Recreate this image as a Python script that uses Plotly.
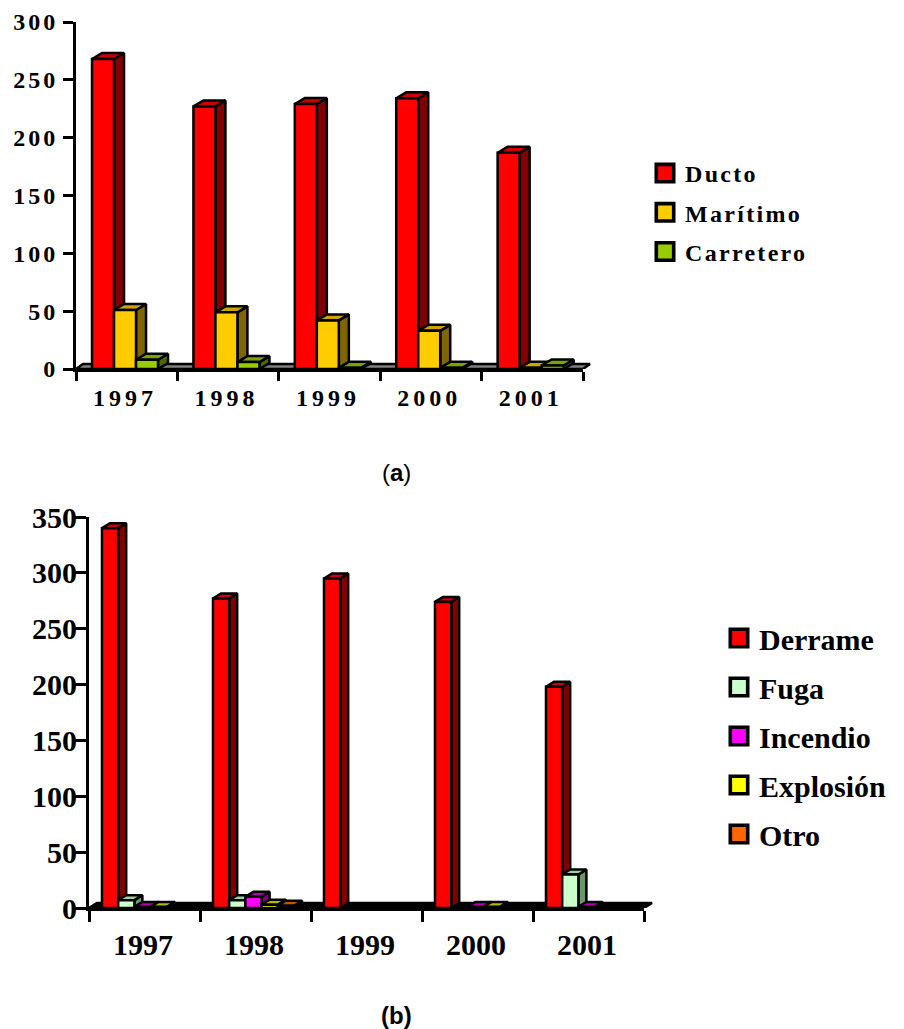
import plotly.graph_objects as go

years = ["1997", "1998", "1999", "2000", "2001"]

ducto = [268, 227, 229, 234, 187]
maritimo = [51, 49, 42, 33, 1]
carretero = [8, 6, 1, 1, 3]

derrame = [340, 277, 295, 274, 198]
fuga = [7, 7, 0, 0, 30]
incendio = [1, 10, 0, 1, 1]
explosion = [1, 3, 0, 1, 0]
otro = [0, 2, 0, 0, 0]

W, H = 904, 1029
SERIF = "Liberation Serif"
SANS = "Liberation Sans"


def chart(series, xa, ya, xa2, ya2, legend, y_max, px_left, px_right, px_bottom, px_top,
          start, bar_w, depth, floor_depth, floor_color, line_w):
    """series: (name, values, front, top, side)"""
    scale_x = (px_right - px_left) / len(years)
    scale_y = (px_bottom - px_top) / y_max
    dx = depth[0] / scale_x
    dy = depth[1] / scale_y
    fdx = floor_depth[0] / scale_x
    fdy = floor_depth[1] / scale_y
    n = len(years)
    traces = [go.Scatter(x=[0, fdx, n + fdx, n, 0], y=[0, fdy, fdy, 0, 0], mode="lines", fill="toself",
                         fillcolor=floor_color, line=dict(color="black", width=line_w),
                         xaxis=xa, yaxis=ya, showlegend=False, hoverinfo="skip")]
    fronts = []
    for k, (name, vals, front, top, side) in enumerate(series):
        tx, ty, sx, sy = [], [], [], []
        centers = []
        for i, v in enumerate(vals):
            x0 = i + start + k * bar_w
            x1 = x0 + bar_w
            centers.append((x0 + x1) / 2)
            if v == 0:
                continue  # a zero-height column leaves only the floor visible
            tx += [x0, x0 + dx, x1 + dx, x1, x0, None]
            ty += [v, v + dy, v + dy, v, v, None]
            sx += [x1, x1 + dx, x1 + dx, x1, x1, None]
            sy += [v, v + dy, dy, 0, v, None]
        for px, py, c in ((sx, sy, side), (tx, ty, top)):
            traces.append(go.Scatter(x=px, y=py, mode="lines", fill="toself", fillcolor=c,
                                     line=dict(color="black", width=line_w), xaxis=xa, yaxis=ya,
                                     showlegend=False, hoverinfo="skip"))
        fronts.append(go.Bar(x=centers, y=vals, width=bar_w, name=name,
                             marker=dict(color=front, line=dict(color="black", width=line_w)),
                             xaxis=xa2, yaxis=ya2, legend=legend, legendgroup=name))
    return traces + fronts


series_a = [
    ("Ducto", ducto, "#FF0000", "#CC0000", "#800000"),
    ("Marítimo", maritimo, "#FFCC00", "#CCA300", "#806600"),
    ("Carretero", carretero, "#99CC00", "#7AA300", "#4D6600"),
]
series_b = [
    ("Derrame", derrame, "#FF0000", "#CC0000", "#800000"),
    ("Fuga", fuga, "#CCFFCC", "#A3CCA3", "#669966"),
    ("Incendio", incendio, "#FF00FF", "#B000B0", "#800080"),
    ("Explosión", explosion, "#FFFF00", "#B8B800", "#808000"),
    ("Otro", otro, "#FF6600", "#CC5200", "#803300"),
]

A = dict(px_left=76, px_right=583, px_bottom=369, px_top=22)
B = dict(px_left=89, px_right=644, px_bottom=908, px_top=517)
EXTRA = 12  # pixels of room right of the axis end, for the floor's depth

fig = go.Figure()
fig.add_traces(chart(series_a, "x", "y", "x2", "y2", "legend", 300, **A, start=0.158, bar_w=0.217,
                     depth=(10, 6), floor_depth=(7, 5), floor_color="#808080", line_w=2.5))
fig.add_traces(chart(series_b, "x3", "y3", "x4", "y4", "legend2", 350, **B, start=0.117, bar_w=0.146,
                     depth=(8, 5), floor_depth=(8, 5), floor_color="#000000", line_w=2.5))


def dom_x(d, extra=0):
    return [d["px_left"] / W, (d["px_right"] + extra) / W]


def dom_y(d):
    return [1 - d["px_bottom"] / H, 1 - d["px_top"] / H]


def back_x(d, anchor):
    n = len(years)
    scale = (d["px_right"] - d["px_left"]) / n
    return dict(domain=dom_x(d, EXTRA), anchor=anchor, range=[0, n + EXTRA / scale], visible=False)


def back_y(d, anchor, y_max):
    return dict(domain=dom_y(d), anchor=anchor, range=[0, y_max], visible=False)


def front_x(d, anchor, size, standoff, ticklen, center):
    return dict(domain=dom_x(d), anchor=anchor, range=[0, len(years)], showgrid=False, zeroline=False, showline=True,
                linecolor="black", linewidth=3, tickmode="array",
                tickvals=[i + center for i in range(len(years))], ticktext=years, ticks="", ticklabelstandoff=standoff,
                tickfont=dict(family=SERIF, size=size, color="black", weight="bold"),
                minor=dict(tickmode="array", tickvals=list(range(len(years) + 1)), ticks="outside",
                           ticklen=ticklen, tickwidth=3, tickcolor="black", showgrid=False))


def front_y(d, anchor, y_max, step, size, ticklen, standoff):
    return dict(domain=dom_y(d), anchor=anchor, range=[0, y_max], showgrid=False, zeroline=False, showline=True,
                linecolor="black", linewidth=3, tickmode="array", tickvals=list(range(0, y_max + 1, step)),
                ticks="outside", ticklen=ticklen, tickwidth=3, tickcolor="black", ticklabelstandoff=standoff,
                tickfont=dict(family=SERIF, size=size, color="black", weight="bold"))


fig.update_layout(
    width=W, height=H, margin=dict(l=0, r=0, t=0, b=0, autoexpand=False), paper_bgcolor="white", plot_bgcolor="rgba(0,0,0,0)",
    barmode="overlay", showlegend=True, hovermode=False,
    xaxis=back_x(A, "y"),
    yaxis=back_y(A, "x", 300),
    xaxis2=front_x(A, "y2", 24, 5, 9, 0.484),
    yaxis2=front_y(A, "x2", 300, 50, 24, 10, 0),
    xaxis3=back_x(B, "y3"),
    yaxis3=back_y(B, "x3", 350),
    xaxis4=front_x(B, "y4", 30, 8, 11, 0.486),
    yaxis4=front_y(B, "x4", 350, 50, 30, 11, -8),
    legend=dict(x=645 / W, y=1 - 151 / H, xanchor="left", yanchor="top", bgcolor="rgba(0,0,0,0)",
                font=dict(family=SERIF, size=24, color="black", weight="bold"), tracegroupgap=5,
                itemwidth=30, entrywidth=135, entrywidthmode="pixels"),
    legend2=dict(x=719 / W, y=1 - 612 / H, xanchor="left", yanchor="top", bgcolor="rgba(0,0,0,0)",
                 font=dict(family=SERIF, size=30, color="black", weight="bold"), tracegroupgap=7,
                 itemwidth=30, entrywidth=145, entrywidthmode="pixels"),
    annotations=[
        dict(text="(<b>a</b>)", x=396 / W, y=1 - 473 / H, xref="paper", yref="paper", showarrow=False,
             xanchor="center", yanchor="middle", font=dict(family=SANS, size=24, color="black")),
        dict(text="<b>(b)</b>", x=396 / W, y=1 - 1015 / H, xref="paper", yref="paper", showarrow=False,
             xanchor="center", yanchor="middle", font=dict(family=SANS, size=24, color="black")),
    ],
)

css = """
.x2tick text {letter-spacing: 4px;}
.y2tick text {letter-spacing: 3px;}
.legend .traces text {letter-spacing: 2.3px;}
.legend .scrollbox, .legend2 .scrollbox {clip-path: none !important;}
g.legendpoints path {transform: translate(20px, 0px) scale(1.45) !important;}
"""
post = ("document.body.style.margin='0';document.documentElement.style.overflow='hidden';"
        "var s=document.createElement('style');s.textContent=%r;document.head.appendChild(s);" % css)

fig.write_html("out.html", post_script=post, config=dict(displayModeBar=False))
